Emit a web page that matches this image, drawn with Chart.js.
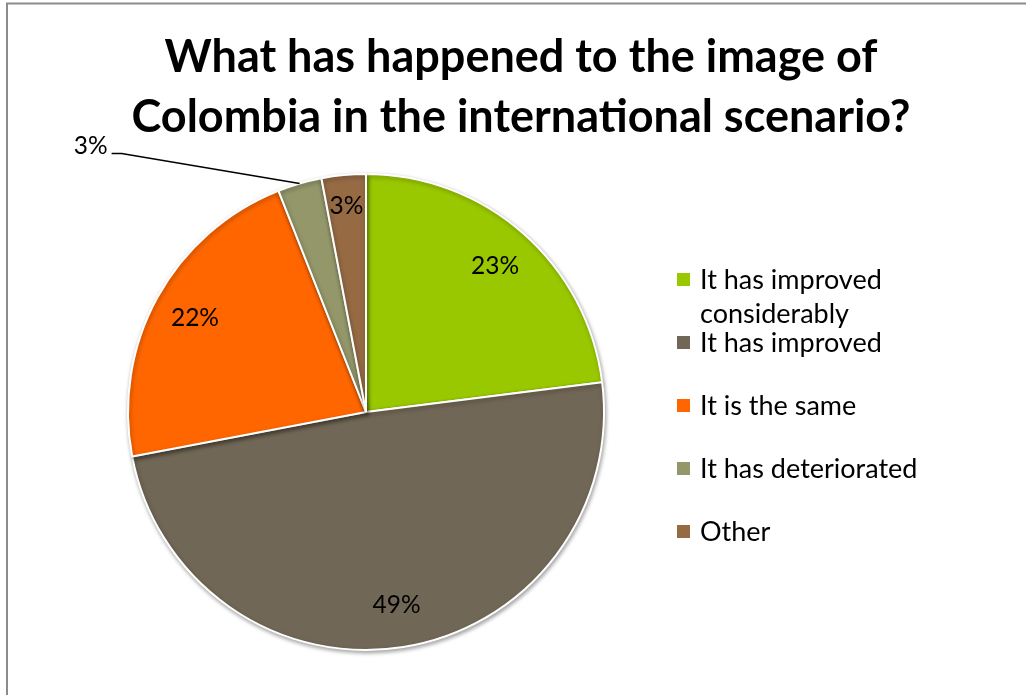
<!DOCTYPE html>
<html>
<head>
<meta charset="utf-8">
<script src="https://cdn.jsdelivr.net/npm/chart.js@4.4.0/dist/chart.umd.min.js"></script>
<style>
  html, body { margin: 0; background: #fff; }
  #wrap { width: 1026px; height: 695px; position: relative; }
</style>
</head>
<body>
<div id="wrap"><canvas id="pie"></canvas></div>
<script>
// Survey answers, clockwise from 12 o'clock
const titleLines = ['What has happened to the image of', 'Colombia in the international scenario?'];
const answers = ['It has improved considerably', 'It has improved', 'It is the same', 'It has deteriorated', 'Other'];
const shares = [23, 49, 22, 3, 3];
const sliceColors = ['#99c800', '#716756', '#ff6600', '#939769', '#966b44'];

const FONT = 'Lato, "Open Sans", sans-serif';

// Title, legend, percentage labels and the outer frame are drawn here
const decorations = {
  id: 'decorations',
  beforeDatasetsDraw(chart) {
    const ctx = chart.ctx;
    ctx.save();
    ctx.shadowColor = 'rgba(0,0,0,0.35)';
    ctx.shadowBlur = 4;
    ctx.shadowOffsetX = 1;
    ctx.shadowOffsetY = 2;
  },
  afterDatasetsDraw(chart) {
    chart.ctx.restore();
  },
  afterDraw(chart) {
    const ctx = chart.ctx;
    ctx.save();

    // frame
    ctx.strokeStyle = '#8c8c8c';
    ctx.lineWidth = 2;
    ctx.beginPath();
    ctx.moveTo(7, 700);
    ctx.lineTo(7, 3.5);
    ctx.lineTo(1030, 3.5);
    ctx.stroke();

    // title
    ctx.fillStyle = '#000';
    ctx.textAlign = 'center';
    ctx.textBaseline = 'middle';
    ctx.font = 'bold 45px ' + FONT;
    titleLines.forEach((line, i) => ctx.fillText(line, 521, 57 + i * 60));

    // percentage labels
    const meta = chart.getDatasetMeta(0);
    ctx.font = '24.5px ' + FONT;
    meta.data.forEach((arc, i) => {
      const p = arc.getProps(['x', 'y', 'startAngle', 'endAngle', 'outerRadius'], true);
      const mid = (p.startAngle + p.endAngle) / 2;
      const text = shares[i] + '%';
      if (answers[i] === 'It has deteriorated') {
        // callout outside the slice with a leader line
        const ex = p.x + Math.cos(mid) * p.outerRadius;
        const ey = p.y + Math.sin(mid) * p.outerRadius;
        const elbowX = ex - 178, elbowY = ey - 30;
        ctx.strokeStyle = '#000';
        ctx.lineWidth = 1.5;
        ctx.beginPath();
        ctx.moveTo(ex, ey);
        ctx.lineTo(elbowX, elbowY);
        ctx.lineTo(elbowX - 10, elbowY);
        ctx.stroke();
        ctx.textAlign = 'right';
        ctx.fillText(text, elbowX - 14, elbowY - 7);
        ctx.textAlign = 'center';
        return;
      }
      const f = shares[i] < 5 ? 0.87 : 0.82;
      ctx.fillText(text, p.x + Math.cos(mid) * p.outerRadius * f, p.y + Math.sin(mid) * p.outerRadius * f);
    });

    // legend
    ctx.font = '27px ' + FONT;
    ctx.textAlign = 'left';
    answers.forEach((label, i) => {
      const cy = 280 + i * 63;
      ctx.fillStyle = sliceColors[i];
      ctx.fillRect(677, cy - 7, 13, 13);
      ctx.fillStyle = '#000';
      const lines = [];
      let cur = '';
      label.split(' ').forEach(w => {
        const t = cur ? cur + ' ' + w : w;
        if (cur && ctx.measureText(t).width > 230) { lines.push(cur); cur = w; } else cur = t;
      });
      lines.push(cur);
      lines.forEach((ln, k) => ctx.fillText(ln, 700, cy + k * 34));
    });

    ctx.restore();
  }
};

new Chart(document.getElementById('pie'), {
  type: 'pie',
  data: {
    labels: answers,
    datasets: [{
      data: shares,
      backgroundColor: sliceColors,
      borderColor: '#ffffff',
      borderWidth: 2
    }]
  },
  options: {
    responsive: true,
    maintainAspectRatio: false,
    animation: false,
    layout: { padding: { left: 127, right: 421, top: 173, bottom: 44 } },
    plugins: {
      legend: { display: false },
      tooltip: { enabled: false },
      title: { display: false }
    }
  },
  plugins: [decorations]
});
</script>
</body>
</html>
